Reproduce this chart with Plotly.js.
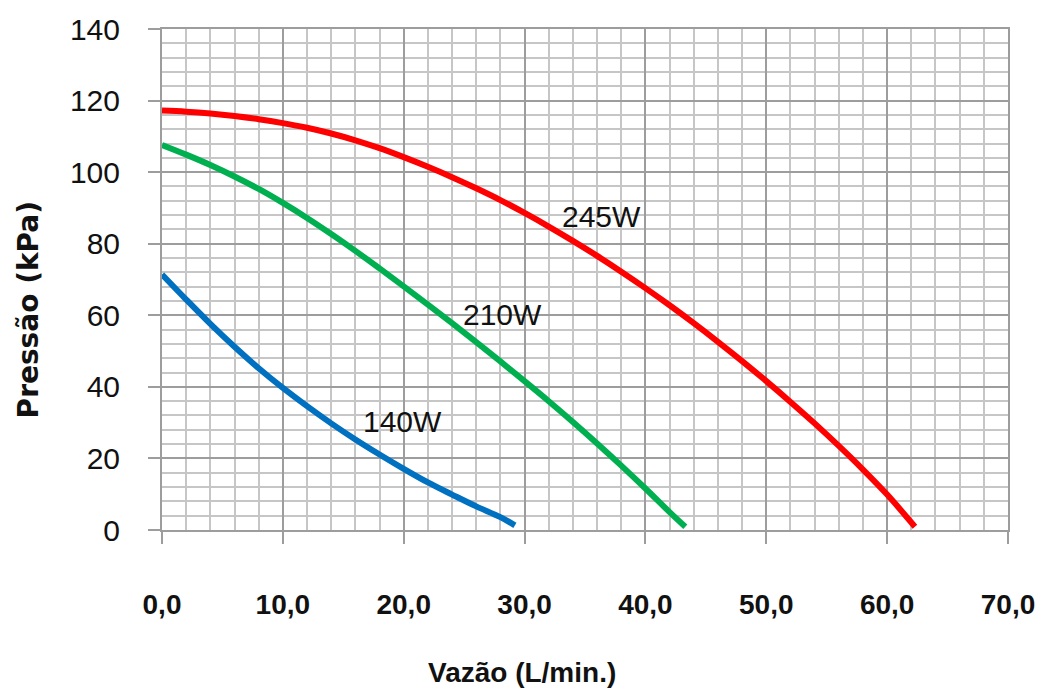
<!DOCTYPE html>
<html>
<head>
<meta charset="utf-8">
<script src="https://cdn.plot.ly/plotly-3.0.1.min.js"></script>
<style>html,body{margin:0;padding:0;background:#fff}#chart{width:1043px;height:690px}</style>
</head>
<body>
<div id="chart"></div>
<script>
// Flow (L/min.) and pressure (kPa)
const red245x = [0, 2, 4, 6, 8, 10, 12, 14, 16, 18, 20, 22, 24, 26, 28, 30, 32, 34, 36, 38, 40, 42, 44, 46, 48, 50, 52, 54, 56, 58, 60, 62.3];
const red245y = [117.2, 116.9, 116.4, 115.7, 114.8, 113.7, 112.4, 110.8, 108.9, 106.7, 104.2, 101.5, 98.6, 95.5, 92.2, 88.6, 84.8, 80.8, 76.6, 72.2, 67.6, 62.8, 57.8, 52.6, 47.2, 41.6, 35.8, 29.8, 23.5, 16.9, 9.9, 0.9];

const green210x = [0, 2, 4, 6, 8, 10, 12, 14, 16, 18, 20, 22, 24, 26, 28, 30, 32, 34, 36, 38, 40, 42, 43.3];
const green210y = [107.6, 104.9, 102.0, 98.8, 95.3, 91.4, 87.2, 82.7, 78.0, 73.1, 68.1, 63.0, 57.8, 52.5, 47.1, 41.6, 36.0, 30.2, 24.2, 18.0, 11.6, 5.0, 0.9];

const blue140x = [0, 2, 4, 6, 8, 10, 12, 14, 16, 18, 20, 22, 24, 26, 28, 29.2];
const blue140y = [71.4, 64.4, 57.6, 51.2, 45.2, 39.7, 34.6, 29.8, 25.3, 21.1, 17.1, 13.3, 9.9, 6.6, 3.6, 1.3];

const seriesNames = ["245W", "210W", "140W"];
const labelX = [36.4, 28.2, 19.9];
const labelY = [87.6, 60.2, 30.2];

const xTickVals = [0, 10, 20, 30, 40, 50, 60, 70];
const xTickText = ["0,0", "10,0", "20,0", "30,0", "40,0", "50,0", "60,0", "70,0"];
const yTickVals = [0, 20, 40, 60, 80, 100, 120, 140];

const xTitle = "Vazão (L/min.)";
const yTitle = "Pressão (kPa)";

const colors = ["#ff0000", "#00b050", "#0070c0"];
const xs = [red245x, green210x, blue140x];
const ys = [red245y, green210y, blue140y];

const traces = xs.map((x, i) => ({
  x: x, y: ys[i], type: "scatter", mode: "lines", name: seriesNames[i],
  line: {color: colors[i], width: 6, shape: "spline", smoothing: 1},
  hoverinfo: "skip"
}));

const majorGrid = "#9d9d9d";
const minorGrid = "#c6c6c6";

const annotations = seriesNames.map((t, i) => ({
  x: labelX[i], y: labelY[i], xref: "x", yref: "y", text: t, showarrow: false,
  font: {family: "Liberation Sans, Arial, sans-serif", size: 30, color: "#111"},
  xanchor: "center", yanchor: "middle"
}));
annotations.push({
  x: 0.4255, y: -0.285, xref: "paper", yref: "paper", text: "<b>" + xTitle + "</b>", showarrow: false,
  font: {family: "Liberation Sans, Arial, sans-serif", size: 28, color: "#111"},
  xanchor: "center", yanchor: "middle"
});
annotations.push({
  x: -0.158, y: 0.439, xref: "paper", yref: "paper", text: "<b>" + yTitle + "</b>", showarrow: false,
  textangle: -90,
  font: {family: "DejaVu Sans, sans-serif", size: 28, color: "#111"},
  xanchor: "center", yanchor: "middle"
});

const layout = {
  width: 1043, height: 690,
  margin: {l: 162, r: 35, t: 29, b: 160},
  paper_bgcolor: "#fff", plot_bgcolor: "#fff",
  showlegend: false,
  xaxis: {
    range: [0, 70], tickvals: xTickVals, ticktext: xTickText,
    showgrid: true, gridcolor: majorGrid, gridwidth: 2,
    minor: {dtick: 2, showgrid: true, gridcolor: minorGrid, gridwidth: 2},
    showline: true, linecolor: majorGrid, linewidth: 2, mirror: true,
    ticks: "outside", ticklen: 12, tickwidth: 2, tickcolor: majorGrid,
    ticklabelstandoff: 36,
    tickfont: {family: "Liberation Sans, Arial, sans-serif", size: 28, color: "#111", weight: "bold"},
    zeroline: false, fixedrange: true
  },
  yaxis: {
    range: [0, 140], tickvals: yTickVals,
    showgrid: true, gridcolor: majorGrid, gridwidth: 2,
    minor: {dtick: 4, showgrid: true, gridcolor: minorGrid, gridwidth: 2},
    showline: true, linecolor: majorGrid, linewidth: 2, mirror: true,
    ticks: "outside", ticklen: 12, tickwidth: 2, tickcolor: majorGrid,
    ticklabelstandoff: 22,
    tickfont: {family: "Liberation Sans, Arial, sans-serif", size: 30, color: "#111"},
    zeroline: false, fixedrange: true
  },
  annotations: annotations
};

Plotly.newPlot("chart", traces, layout, {displayModeBar: false, staticPlot: true});
</script>
</body>
</html>
